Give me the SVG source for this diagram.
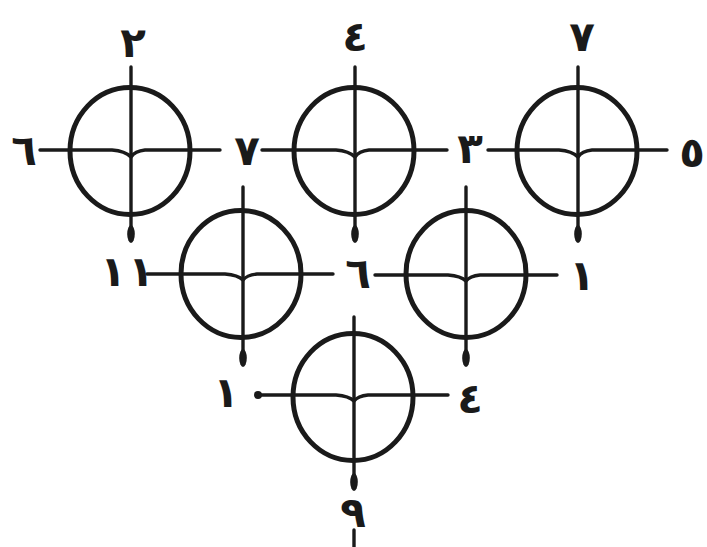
<svg xmlns="http://www.w3.org/2000/svg" width="707" height="547" viewBox="0 0 707 547">
<style>
.ring{fill:none;stroke:#1a1a1a;stroke-width:5}
.ln{fill:none;stroke:#1a1a1a;stroke-width:3.4;stroke-linecap:round;stroke-linejoin:round}
.blob{fill:#1a1a1a}
.lbl{font-family:"DejaVu Sans",sans-serif;font-weight:bold;font-size:42px;fill:#1a1a1a;text-anchor:middle;dominant-baseline:central}
</style>
<rect width="707" height="547" fill="#ffffff"/>
<g id="connectors">
  <line class="ln" x1="131" y1="67" x2="131" y2="232"/>
  <line class="ln" x1="355" y1="67" x2="355" y2="232"/>
  <line class="ln" x1="578" y1="67" x2="578" y2="232"/>
  <line class="ln" x1="243" y1="187" x2="243" y2="356"/>
  <line class="ln" x1="466" y1="187" x2="466" y2="356"/>
  <line class="ln" x1="354" y1="317" x2="354" y2="480"/>
  <line class="ln" x1="354" y1="530" x2="354" y2="547"/>
  <ellipse class="blob" cx="131" cy="234" rx="3.8" ry="9"/>
  <ellipse class="blob" cx="355" cy="234" rx="3.8" ry="9"/>
  <ellipse class="blob" cx="578" cy="234" rx="3.8" ry="9"/>
  <ellipse class="blob" cx="243" cy="358" rx="3.8" ry="9"/>
  <ellipse class="blob" cx="466" cy="358" rx="3.8" ry="9"/>
  <ellipse class="blob" cx="354" cy="482" rx="3.8" ry="9"/>
  <circle class="blob" cx="258" cy="395" r="4"/>
</g>
<g id="node1">
  <ellipse class="ring" cx="130" cy="151" rx="60" ry="63.5"/>
  <path class="ln" d="M40,150 L112,150 Q125,151 131,157 Q135,151 145,150 L220,150"/>
</g>
<g id="node2">
  <ellipse class="ring" cx="354" cy="151" rx="60" ry="63.5"/>
  <path class="ln" d="M262,150 L336,150 Q349,151 355,157 Q359,151 369,150 L447,150"/>
</g>
<g id="node3">
  <ellipse class="ring" cx="577" cy="151" rx="60" ry="63.5"/>
  <path class="ln" d="M488,150 L559,150 Q572,151 578,157 Q582,151 592,150 L667,150"/>
</g>
<g id="node4">
  <ellipse class="ring" cx="241" cy="274" rx="60" ry="63.5"/>
  <path class="ln" d="M147,274 L225,274 Q238,275 243,280 Q247,275 257,274 L333,274"/>
</g>
<g id="node5">
  <ellipse class="ring" cx="466" cy="274" rx="60" ry="63.5"/>
  <path class="ln" d="M375,275 L448,275 Q461,276 466,281 Q470,276 480,275 L557,275"/>
</g>
<g id="node6">
  <ellipse class="ring" cx="353" cy="397" rx="60" ry="63.5"/>
  <path class="ln" d="M258,395 L336,395 Q349,396 354,401 Q358,396 368,395 L448,395"/>
</g>
<g id="labels">
  <text class="lbl" x="133" y="42">٢</text>
  <text class="lbl" x="355" y="36">٤</text>
  <text class="lbl" x="582" y="36">٧</text>
  <text class="lbl" x="24" y="150">٦</text>
  <text class="lbl" x="247" y="150">٧</text>
  <text class="lbl" x="470" y="148">٣</text>
  <text class="lbl" x="692" y="152">٥</text>
  <text class="lbl" x="113" y="271">١</text>
  <text class="lbl" x="141" y="271">١</text>
  <text class="lbl" x="358" y="273">٦</text>
  <text class="lbl" x="582" y="275">١</text>
  <text class="lbl" x="226" y="392">١</text>
  <text class="lbl" x="470" y="398">٤</text>
  <text class="lbl" x="353" y="512">٩</text>
</g>
</svg>
